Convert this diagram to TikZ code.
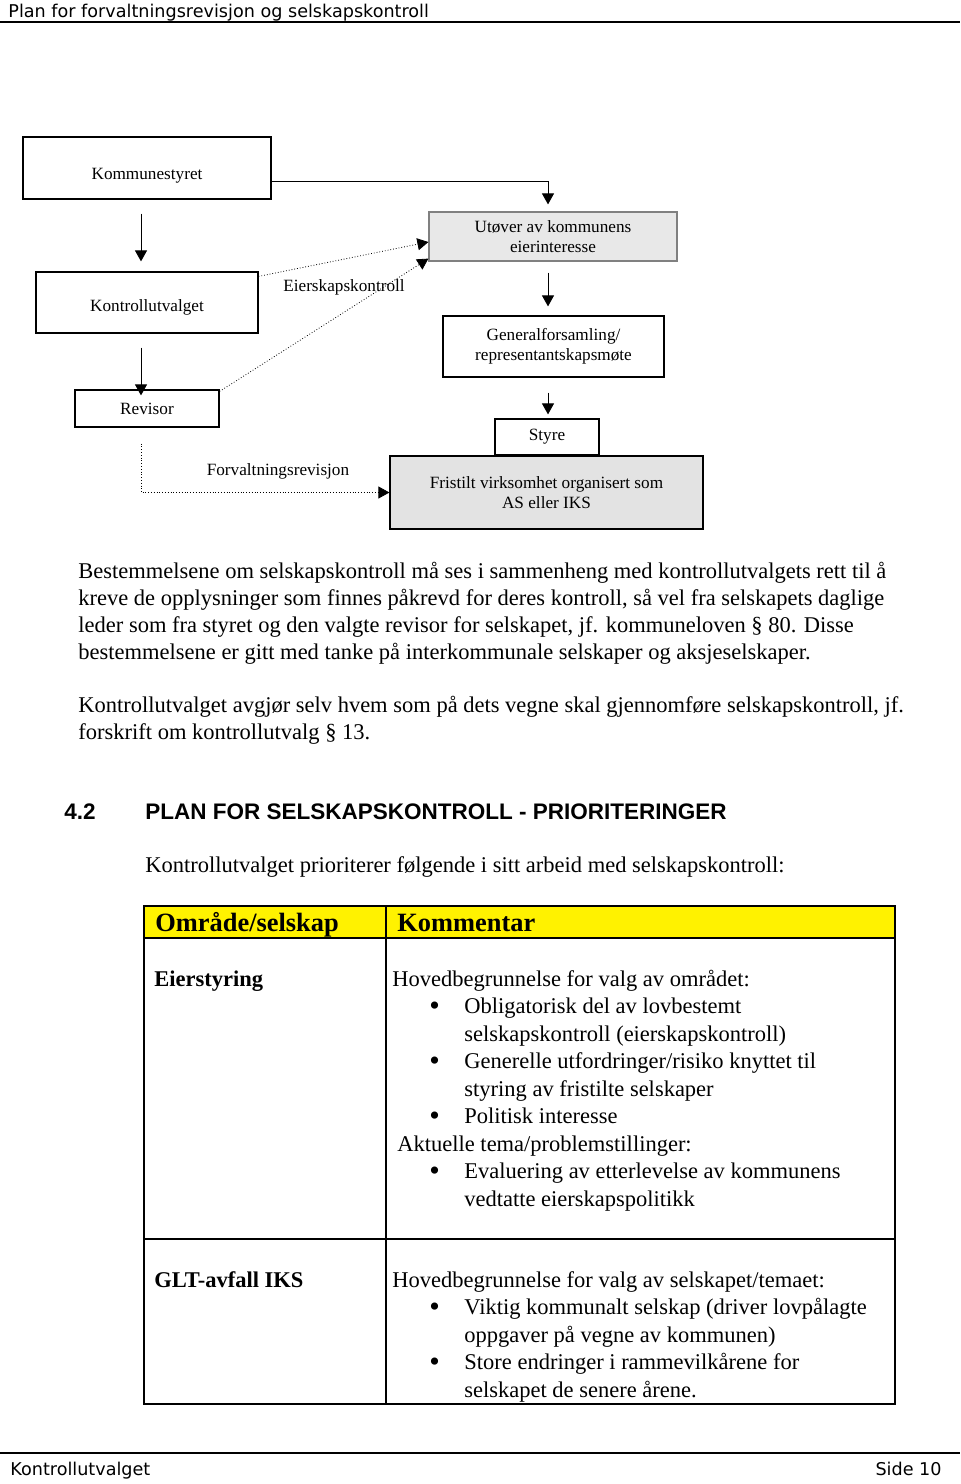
\documentclass[tikz,border=0pt]{standalone}
\usepackage{fontspec}
\setmainfont{Liberation Serif}
\newfontfamily\arialfont{Liberation Sans}
\newfontfamily\comicfont{DejaVu Sans}
\usetikzlibrary{arrows.meta,positioning}

\newcommand\punkt{\hspace*{18.5pt}\makebox[17.5pt][l]{\raisebox{-1.2pt}{\fontsize{15}{13.75}\selectfont\textbullet}}}
\newcommand\innrykk{\hspace*{36pt}}

\begin{document}
\begin{tikzpicture}[x=0.5pt,y=-0.5pt,
  boks/.style={draw,line width=0.6pt,inner sep=0pt,align=center,font=\fontsize{8.6}{10}\selectfont},
  etikett/.style={inner sep=0pt,font=\fontsize{8.6}{10}\selectfont},
  pil/.style={-{Triangle[length=5.5pt,width=6pt]},line width=0.5pt},
  stipl/.style={-{Triangle[length=5.5pt,width=6pt]},densely dotted,line width=0.4pt},
  tekst/.style={inner sep=0pt,anchor=base west,align=left,font=\fontsize{11.25}{13.5}\selectfont},
  celle/.style={inner sep=0pt,anchor=base west,align=left,font=\fontsize{11.25}{13.75}\selectfont},
  topp/.style={inner sep=0pt,font=\comicfont\fontsize{8.8}{10}\selectfont}]
\useasboundingbox (0,0) rectangle (960,1484);
% topptekst
\node[topp,anchor=base west] (tittel) at (8,17) {Plan for forvaltningsrevisjon og selskapskontroll};
\draw[line width=1pt] (0,22) -- (960,22);
% organisasjonskart
\node[boks,minimum width=124pt,minimum height=31pt,text height=13pt] (kommune) at (147,168) {Kommunestyret};
\node[boks,draw=gray,fill=gray!18,minimum width=124pt,minimum height=24.5pt] (utover) at (553,236.5) {Utøver av kommunens\\eierinteresse};
\node[boks,minimum width=111pt,minimum height=30.5pt,text height=11pt] (kontroll) at (147,302.5) {Kontrollutvalget};
\node[boks,minimum width=110.5pt,minimum height=30.5pt] (genfors) at (553.5,346.5) {Generalforsamling/\\representantskapsmøte};
\node[boks,minimum width=72pt,minimum height=18.5pt] (revisor) at (147,408.5) {Revisor};
\node[boks,minimum width=52pt,minimum height=18pt] (styre) at (547,437) {Styre};
\node[boks,fill=gray!22,minimum width=156.5pt,minimum height=36.5pt] (fristilt) at (546.5,492.5) {Fristilt virksomhet organisert som\\AS eller IKS};
\node[etikett] (eierlbl) at (344,287) {Eierskapskontroll};
\node[etikett] (forvlbl) at (278,471) {Forvaltningsrevisjon};
\draw[pil,shorten >=3.5pt] ([yshift=-6.5pt]kommune.east) -| ([xshift=-2.5pt]utover.north);
\path[pil]
  ([xshift=-3pt]kommune.south) edge[shorten <=7pt,shorten >=5pt] ([xshift=-3pt]kontroll.north)
  ([xshift=-3pt]kontroll.south) edge[shorten <=7pt,shorten >=-3pt] ([xshift=-3pt]revisor.north)
  ([xshift=-2.5pt]utover.south) edge[shorten <=5.5pt,shorten >=4.5pt] ([xshift=-2.75pt]genfors.north)
  ([xshift=-2.75pt]genfors.south) edge[shorten <=7.5pt,shorten >=2pt] ([xshift=0.5pt]styre.north);
\draw[stipl] ([yshift=-2.5pt]kontroll.north east) -- ([yshift=-2.75pt]utover.west);
\draw[stipl] ([yshift=-1pt]revisor.north east) -- ([yshift=1.5pt]utover.south west);
\draw[stipl] ([xshift=-3pt,yshift=-8pt]revisor.south) |- (fristilt.west);
% brødtekst
\node[tekst] (avsnitt1) at (78,659) {Bestemmelsene om selskapskontroll må ses i sammenheng med kontrollutvalgets rett til å\\
kreve de opplysninger som finnes påkrevd for deres kontroll, så vel fra selskapets daglige\\
leder som fra styret og den valgte revisor for selskapet, jf. kommuneloven § 80. Disse\\
bestemmelsene er gitt med tanke på interkommunale selskaper og aksjeselskaper.};
\node[tekst] (avsnitt2) at (78,739) {Kontrollutvalget avgjør selv hvem som på dets vegne skal gjennomføre selskapskontroll, jf.\\
forskrift om kontrollutvalg § 13.};
\node[tekst,font=\arialfont\bfseries\fontsize{11.25}{13.5}\selectfont] (kapnr) at (64,819) {4.2};
\node[tekst,font=\arialfont\bfseries\fontsize{11.25}{13.5}\selectfont] (kaptittel) at (145,819) {PLAN FOR SELSKAPSKONTROLL - PRIORITERINGER};
\node[tekst] (innledning) at (145,872) {Kontrollutvalget prioriterer følgende i sitt arbeid med selskapskontroll:};
% tabell
\fill[yellow] (144,906) rectangle (895,938);
\draw[line width=0.6pt] (144,906) rectangle (895,1404);
\draw[line width=0.6pt] (144,938) -- (895,938) (144,1239) -- (895,1239) (386,906) -- (386,1404);
\node[celle,font=\bfseries\fontsize{13.2}{15}\selectfont] (kol1) at (155,931) {Område/selskap};
\node[celle,font=\bfseries\fontsize{13.2}{15}\selectfont] (kol2) at (397,931) {Kommentar};
\node[celle,font=\bfseries\fontsize{11.25}{13.75}\selectfont] (rad1) at (154,986) {Eierstyring};
\node[celle] (kommentar1) at (392,1206) {Hovedbegrunnelse for valg av området:\\
\punkt Obligatorisk del av lovbestemt\\
\innrykk selskapskontroll (eierskapskontroll)\\
\punkt Generelle utfordringer/risiko knyttet til\\
\innrykk styring av fristilte selskaper\\
\punkt Politisk interesse\\
\hspace*{2.5pt}Aktuelle tema/problemstillinger:\\
\punkt Evaluering av etterlevelse av kommunens\\
\innrykk vedtatte eierskapspolitikk};
\node[celle,font=\bfseries\fontsize{11.25}{13.75}\selectfont] (rad2) at (154,1287) {GLT-avfall IKS};
\node[celle] (kommentar2) at (392,1397) {Hovedbegrunnelse for valg av selskapet/temaet:\\
\punkt Viktig kommunalt selskap (driver lovpålagte\\
\innrykk oppgaver på vegne av kommunen)\\
\punkt Store endringer i rammevilkårene for\\
\innrykk selskapet de senere årene.};
% bunntekst
\draw[line width=1pt] (0,1453) -- (960,1453);
\node[topp,anchor=base west] (bunn1) at (10,1475) {Kontrollutvalget};
\node[topp,anchor=base east] (bunn2) at (942,1475) {Side 10};
\end{tikzpicture}
\end{document}
